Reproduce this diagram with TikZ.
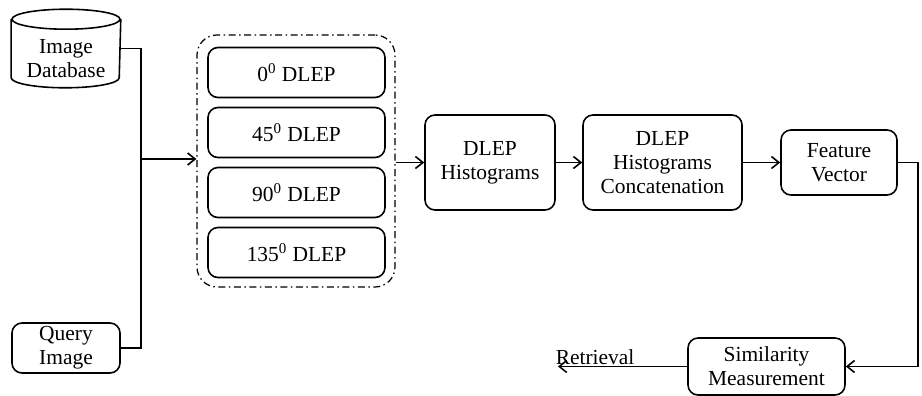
\documentclass[tikz,border=0pt]{standalone}
\usepackage{fontspec}
\setmainfont{Liberation Serif}
\usetikzlibrary{arrows.meta}

\begin{document}
\begin{tikzpicture}[x=0.2mm,y=-0.2mm,line width=0.9pt,>={Straight Barb[length=1.5mm,width=2.4mm]},
  box/.style={draw,rounded corners=2mm,align=center},
  dlepbox/.style={box,minimum width=35.4mm,minimum height=10mm},
  group/.style={draw,line width=0.7pt,rounded corners=4mm,dash pattern=on 1.4mm off 0.7mm on 0.3mm off 0.7mm}]
\tikzstyle{every node}+=[inner sep=0pt,font=\fontsize{12.2pt}{13.8pt}\selectfont]
\useasboundingbox (0,0) rectangle (922,396);
% inputs
\node (db) [minimum width=21.6mm,minimum height=11.4mm,align=center] at (66,58.5) {Image\\Database};
\draw ([yshift=2mm]db.north) ellipse [x radius=10.8mm,y radius=2mm];
\draw ([yshift=2mm]db.north west) -- ([yshift=2mm]db.south west) arc [start angle=180,end angle=360,x radius=10.8mm,y radius=2mm] -- ([yshift=2mm]db.north east);
\node (query) [box,minimum width=21.6mm,minimum height=10mm] at (66,348) {Query\\Image};
\coordinate (jn) at (141,159);
\draw ([yshift=2mm]db.east) -| (jn);
\draw (query.east) -| (jn);
% DLEP group
\node (grp) [group,minimum width=39.6mm,minimum height=50.4mm] at (296,161) {};
\node (d0) [dlepbox] at (296.5,72.5) {0\textsuperscript{0} DLEP};
\node (d45) [dlepbox] at (296.5,132.5) {45\textsuperscript{0} DLEP};
\node (d90) [dlepbox] at (296.5,192.5) {90\textsuperscript{0} DLEP};
\node (d135) [dlepbox] at (296.5,252.5) {135\textsuperscript{0} DLEP};
\draw [->] (jn) -- (jn -| grp.west);
% pipeline
\node (hist) [box,minimum width=26mm,minimum height=19mm] at (490,162.5) {DLEP\\Histograms};
\node (concat) [box,minimum width=31.8mm,minimum height=19mm] at (662.5,162.5) {DLEP\\Histograms\\Concatenation};
\node (feat) [box,minimum width=23.2mm,minimum height=13mm] at (839,162.5) {Feature\\Vector};
\node (sim) [box,minimum width=31.4mm,minimum height=11.4mm] at (766.5,366.5) {Similarity\\Measurement};
\draw [->] (grp.east |- hist.west) -- (hist.west);
\draw [->] (hist.east) -- (concat.west);
\draw [->] (concat.east) -- (feat.west);
\draw [->] (feat.east) -- ++(4mm,0) |- (sim.east);
% output
\coordinate (ret) at (558,366.5);
\node (rettxt) [anchor=base west] at (555,364) {Retrieval};
\draw [->] (sim.west) -- (ret);
\end{tikzpicture}
\end{document}
